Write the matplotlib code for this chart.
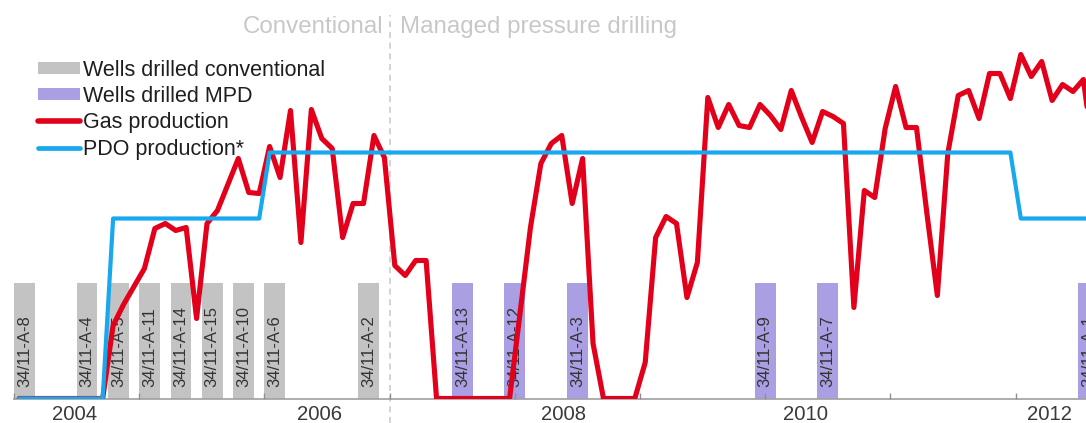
import matplotlib
matplotlib.use("Agg")
import matplotlib.pyplot as plt
from matplotlib.patches import Patch
from matplotlib.lines import Line2D

plt.rcParams['font.family'] = ['Liberation Sans', 'DejaVu Sans']

# ---------------------------------------------------------------- data
# Monthly gas production, one value per month starting January 2004
start_year = 2004
gas_production = [
    0, 0, 0, 0, 0, 0, 0, 0, 0, 73, 94, 112,              # 2004
    130, 170, 175, 168, 171, 80, 175, 188, 214, 240, 206, 205,  # 2005
    252, 221, 288, 156, 289, 260, 250, 161, 195, 195, 263, 241,  # 2006
    133, 123, 138, 138, 0, 0, 0, 0, 0, 0, 0, 0,          # 2007
    85, 171, 235, 255, 263, 195, 240, 55, 0, 0, 0, 0,    # 2008
    36, 161, 182, 175, 101, 136, 301, 271, 294, 273, 271, 294,  # 2009
    283, 269, 308, 281, 256, 287, 282, 275, 91, 208, 201, 270,  # 2010
    312, 271, 271, 185, 103, 245, 303, 308, 280, 325, 325, 300,  # 2011
    344, 322, 337, 298, 314, 307, 319, 240,              # 2012
]

# PDO production profile: month index (from January 2004) and level
pdo_month = [0, 8, 9, 23, 24, 95, 96, 103]
pdo_value = [0, 0, 180, 180, 246, 246, 180, 180]

# Wells and the month they were drilled
conv_wells = ["34/11-A-8", "34/11-A-4", "34/11-A-5", "34/11-A-11", "34/11-A-14",
              "34/11-A-15", "34/11-A-10", "34/11-A-6", "34/11-A-2"]
conv_dates = ["2004-02", "2004-08", "2004-11", "2005-02", "2005-05",
              "2005-08", "2005-11", "2006-02", "2006-11"]
mpd_wells = ["34/11-A-13", "34/11-A-12", "34/11-A-3", "34/11-A-9", "34/11-A-7", "34/11-A-1"]
mpd_dates = ["2007-08", "2008-01", "2008-07", "2010-01", "2010-07", "2012-08"]

year_labels = ["2004", "2006", "2008", "2010", "2012"]

# ---------------------------------------------------------------- layout
W, H = 1086, 423
BASE_PX = 398.5
PX_PER_YEAR = 125.2
LEFT_PX = 14
WELL_BAR_HEIGHT = 116
WELL_BAR_WIDTH = 2 / 12
DIVIDER_YEAR = 2007.0
year_label_pos = [2004.484, 2006.44, 2008.385, 2010.32, 2012.27]

GRAY = "#c3c3c3"
PURPLE = "#a99fe2"
RED = "#e2001a"
BLUE = "#17a8ee"
TEXT = "#333333"
LIGHT = "#c8c8c8"


def month_to_year(m):
    return start_year + (m + 0.5) / 12


def date_to_year(s):
    y, mo = s.split("-")
    return int(y) + (int(mo) - 1) / 12


fig = plt.figure(figsize=(W / 100, H / 100), dpi=100)
ax = fig.add_axes([LEFT_PX / W, (H - BASE_PX) / H, (W - LEFT_PX) / W, BASE_PX / H])
ax.set_xlim(start_year, start_year + (W - LEFT_PX) / PX_PER_YEAR)
ax.set_ylim(0, BASE_PX)

# Well bars with rotated well names
for wells, dates, color in ((conv_wells, conv_dates, GRAY), (mpd_wells, mpd_dates, PURPLE)):
    xs = [date_to_year(d) for d in dates]
    ax.bar(xs, [WELL_BAR_HEIGHT] * len(xs), width=WELL_BAR_WIDTH, color=color,
           linewidth=0, zorder=1)
    for x, name in zip(xs, wells):
        ax.text(x, 12, name, rotation=90, ha="center", va="bottom",
                fontsize=12, color=TEXT, zorder=1.5)

# Production lines
gas_x = [month_to_year(m) for m in range(len(gas_production))]
ax.plot(gas_x, gas_production, color=RED, lw=3.7, solid_joinstyle="round",
        solid_capstyle="round", zorder=3)
ax.plot([month_to_year(m) for m in pdo_month], pdo_value, color=BLUE, lw=3.0,
        solid_joinstyle="round", solid_capstyle="round", zorder=4)

# Divider between conventional and managed pressure drilling
ax.axvline(DIVIDER_YEAR, ymin=-(H - BASE_PX) / BASE_PX, ymax=(BASE_PX - 15) / BASE_PX,
           color=LIGHT, lw=1.1, ls=(0, (4, 3)), clip_on=False, zorder=0.8)
ax.annotate("Conventional", xy=(DIVIDER_YEAR, BASE_PX - 33), xytext=(-4.5, 0),
            textcoords="offset points", ha="right", va="baseline",
            fontsize=17.4, color=LIGHT)
ax.annotate("Managed pressure drilling", xy=(DIVIDER_YEAR, BASE_PX - 33), xytext=(7.5, 0),
            textcoords="offset points", ha="left", va="baseline",
            fontsize=17.4, color=LIGHT)

# Axes styling
for side in ("left", "top", "right"):
    ax.spines[side].set_visible(False)
ax.spines["bottom"].set_color("#a0a0a0")
ax.spines["bottom"].set_linewidth(1.2)
ax.set_axisbelow(False)
ax.set_yticks([])
ax.set_xticks(range(2004, 2013))
ax.set_xticklabels([])
ax.tick_params(axis="x", which="major", direction="in", length=4, width=1,
               color="#909090")
ax.set_xticks(year_label_pos, minor=True)
ax.set_xticklabels(year_labels, minor=True)
ax.tick_params(axis="x", which="minor", length=0, pad=4.5, labelsize=14.6,
               labelcolor="#3a3a3a")

# Legend
handles = [
    Patch(facecolor=GRAY, linewidth=0),
    Patch(facecolor=PURPLE, linewidth=0),
    Line2D([], [], color=RED, lw=4.0, solid_capstyle="round"),
    Line2D([], [], color=BLUE, lw=3.4, solid_capstyle="round"),
]
labels = ["Wells drilled conventional", "Wells drilled MPD", "Gas production",
          "PDO production*"]
ax.legend(handles, labels, loc="upper left", bbox_to_anchor=(38 / W, 1 - 59.5 / H),
          bbox_transform=fig.transFigure, frameon=False, fontsize=15.5,
          handlelength=1.95, handleheight=0.5, handletextpad=0.15,
          labelspacing=0.25, borderpad=0, borderaxespad=0, labelcolor="#1e1e1e")

fig.savefig("out.png", dpi=100)
